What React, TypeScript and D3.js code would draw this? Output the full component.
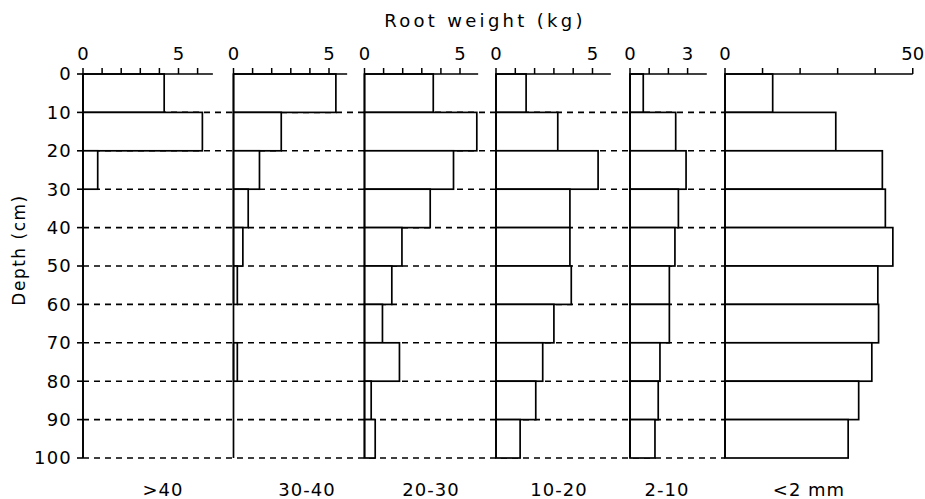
import React from "react";
import * as d3 from "d3";

// depth classes (cm), top of each 10 cm layer
const depths = [0, 10, 20, 30, 40, 50, 60, 70, 80, 90];
const depthTicks = [0, 10, 20, 30, 40, 50, 60, 70, 80, 90, 100];

// root diameter classes (mm)
const classes = [">40", "30-40", "20-30", "10-20", "2-10", "<2 mm"];

// root weight (kg) per layer
const gt40 = [4.25, 6.25, 0.77, 0, 0, 0, 0, 0, 0, 0];
const d30to40 = [5.36, 2.5, 1.36, 0.77, 0.49, 0.2, 0, 0.2, 0, 0];
const d20to30 = [3.6, 5.88, 4.66, 3.44, 1.96, 1.43, 0.94, 1.83, 0.35, 0.56];
const d10to20 = [1.56, 3.2, 5.29, 3.83, 3.83, 3.9, 3.0, 2.42, 2.06, 1.25];
const d2to10 = [0.69, 2.38, 2.92, 2.52, 2.34, 2.05, 2.05, 1.56, 1.47, 1.3];
const lt2 = [12.7, 29.5, 41.9, 42.7, 44.7, 40.7, 40.9, 39.1, 35.6, 32.8];

const series = [gt40, d30to40, d20to30, d10to20, d2to10, lt2];
const tickLabels = [[0, 5], [0, 5], [0, 5], [0, 5], [0, 3], [0, 50]];

// layout of the six small panels: left edge, px per kg, axis end (kg), minor tick step / max
const layout = [
  { x0: 83, ppu: 19.1, end: 6.8, step: 1, tmax: 6, lx: 163 },
  { x0: 233.5, ppu: 19.1, end: 5.95, step: 1, tmax: 5, lx: 307 },
  { x0: 364.5, ppu: 19.1, end: 5.95, step: 1, tmax: 5, lx: 431 },
  { x0: 496, ppu: 19.3, end: 5.95, step: 1, tmax: 5, lx: 559 },
  { x0: 630, ppu: 19.2, end: 4.0, step: 1, tmax: 3, lx: 667 },
  { x0: 725, ppu: 3.755, end: 50, step: 10, tmax: 50, lx: 809 },
];

const W = 925;
const H = 499;
const font = "'DejaVu Sans', sans-serif";

export default function App() {
  const y = d3.scaleLinear().domain([0, 100]).range([74, 458]);
  const leftX = layout[0].x0;
  const rightX = layout[5].x0;

  return (
    <svg
      width={W}
      height={H}
      style={{ position: "absolute", left: 0, top: 0, background: "#fff" }}
      fontFamily={font}
    >
      {/* dashed layer lines */}
      {depthTicks.slice(1).map((d) => (
        <line
          key={"dl" + d}
          x1={leftX}
          x2={rightX}
          y1={y(d)}
          y2={y(d)}
          stroke="#000"
          strokeWidth={1.6}
          strokeDasharray="6,5"
        />
      ))}

      {/* y axis */}
      <line x1={leftX} x2={leftX} y1={y(0)} y2={y(100)} stroke="#000" strokeWidth={1.6} />
      {depthTicks.map((d) => (
        <g key={"yt" + d}>
          <line x1={leftX - 6} x2={leftX} y1={y(d)} y2={y(d)} stroke="#000" strokeWidth={1.6} />
          <text x={leftX - 11} y={y(d)} dy="0.36em" textAnchor="end" fontSize={18} letterSpacing={1.2}>
            {d}
          </text>
        </g>
      ))}
      <text
        transform={`translate(25,250) rotate(-90)`}
        textAnchor="middle"
        fontSize={17}
        letterSpacing={1.5}
      >
        Depth (cm)
      </text>

      <text x={485} y={27} textAnchor="middle" fontSize={18} letterSpacing={3.3}>
        Root weight (kg)
      </text>

      {series.map((vals, i) => {
        const p = layout[i];
        const x = d3
          .scaleLinear()
          .domain([0, p.end])
          .range([p.x0, p.x0 + p.end * p.ppu]);
        const ticks = d3.range(0, p.tmax + p.step / 2, p.step);
        return (
          <g key={"p" + i}>
            {/* bars */}
            {vals.map((v, j) =>
              v > 0 ? (
                <rect
                  key={"b" + j}
                  x={x(0)}
                  y={y(depths[j])}
                  width={x(v) - x(0)}
                  height={y(depths[j] + 10) - y(depths[j])}
                  fill="#fff"
                  stroke="#000"
                  strokeWidth={1.7}
                />
              ) : null
            )}
            {/* baseline */}
            <line x1={x(0)} x2={x(0)} y1={y(0)} y2={y(100)} stroke="#000" strokeWidth={1.7} />
            {/* top axis */}
            <line x1={x(0)} x2={x(p.end)} y1={y(0)} y2={y(0)} stroke="#000" strokeWidth={1.7} />
            {ticks.map((t) => (
              <line
                key={"t" + t}
                x1={x(t)}
                x2={x(t)}
                y1={y(0) - 6}
                y2={y(0)}
                stroke="#000"
                strokeWidth={1.5}
              />
            ))}
            {tickLabels[i].map((t) => (
              <text key={"tl" + t} x={x(t)} y={60} textAnchor="middle" fontSize={18}>
                {t}
              </text>
            ))}
            <text x={p.lx} y={496} textAnchor="middle" fontSize={18} letterSpacing={1}>
              {classes[i]}
            </text>
          </g>
        );
      })}
    </svg>
  );
}
